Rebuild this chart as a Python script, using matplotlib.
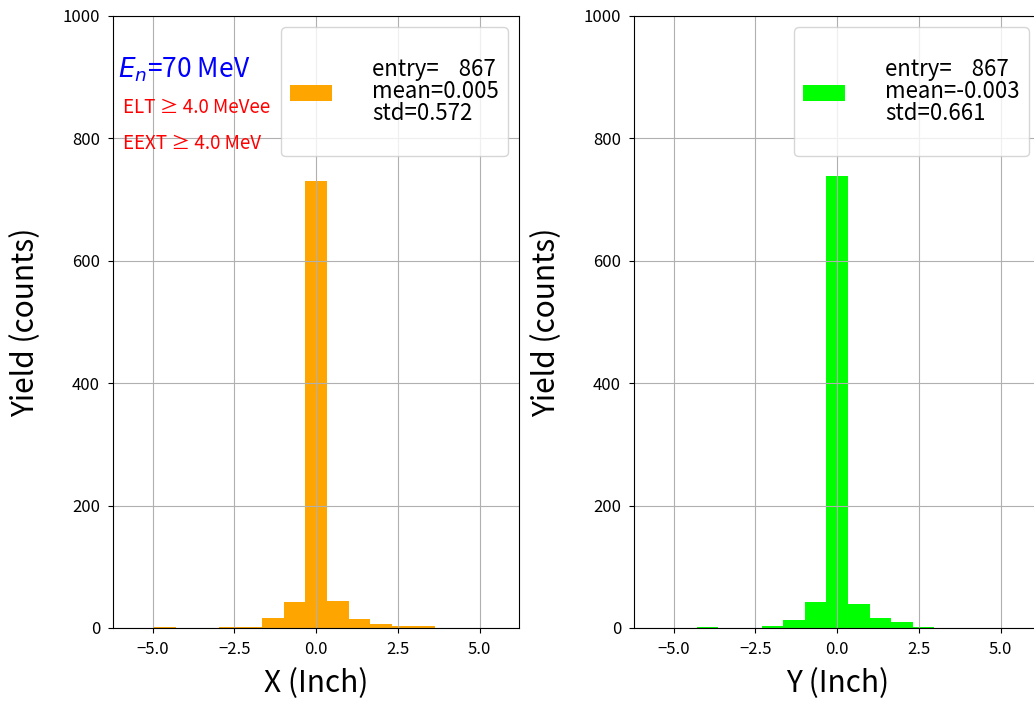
import numpy as np
import matplotlib
matplotlib.use("Agg")
import matplotlib.pyplot as plt

plt.rcParams['font.family'] = ['Noto Sans CJK JP', 'DejaVu Sans']
plt.rcParams['axes.unicode_minus'] = True

# binned hit positions (inch), 0.66 inch bins
bin_edges = [-4.95, -4.29, -3.63, -2.97, -2.31, -1.65, -0.99, -0.33,
             0.33, 0.99, 1.65, 2.31, 2.97, 3.63]
x_counts = [2, 0, 0, 2, 2, 16, 43, 730, 44, 15, 6, 4, 3]
y_counts = [0, 2, 0, 0, 4, 13, 42, 739, 40, 16, 9, 2, 0]

x_stats = (867, 0.005, 0.572)
y_stats = (867, -0.003, 0.661)

W, H = 1034, 702
fig = plt.figure(figsize=(W / 100, H / 100), dpi=100)
ax1 = fig.add_axes([113.3 / W, 74 / H, 405.7 / W, 612 / H])
ax2 = fig.add_axes([634.3 / W, 74 / H, 405.7 / W, 612 / H])

edges = np.array(bin_edges)
centers = 0.5 * (edges[:-1] + edges[1:])

for ax, counts, st, col, xl in [(ax1, x_counts, x_stats, 'orange', 'X (Inch)'),
                                (ax2, y_counts, y_stats, 'lime', 'Y (Inch)')]:
    lab = '\nentry=    %d\nmean=%.3f\nstd=%.3f\n' % st
    ax.hist(centers, bins=edges, weights=counts, color=col, label=lab)
    ax.set_xlim(-6.2, 6.2)
    ax.set_ylim(0, 1000)
    ax.set_xticks([-5.0, -2.5, 0.0, 2.5, 5.0])
    ax.set_yticks([0, 200, 400, 600, 800, 1000])
    ax.tick_params(labelsize=12, pad=6)
    ax.grid(True)
    ax.set_xlabel(xl, fontsize=21.5, labelpad=7)
    ax.set_ylabel('Yield (counts)', fontsize=21.5, labelpad=15.5)
    leg = ax.legend(loc='upper right', fontsize=16, handlelength=1.9,
                    handletextpad=1.8, borderpad=0.4)
    for t in leg.get_texts():
        t.set_linespacing(0.95)

ax1.text(0.012, 0.912, r'$E_n$=70 MeV', color='blue', fontsize=19,
         transform=ax1.transAxes, va='center', ha='left')
ax1.text(0.024, 0.851, 'ELT ≥ 4.0 MeVee', color='red', fontsize=13.5,
         transform=ax1.transAxes, va='center', ha='left')
ax1.text(0.024, 0.791, 'EEXT ≥ 4.0 MeV', color='red', fontsize=13.5,
         transform=ax1.transAxes, va='center', ha='left')

fig.savefig('out.png', dpi=100)
